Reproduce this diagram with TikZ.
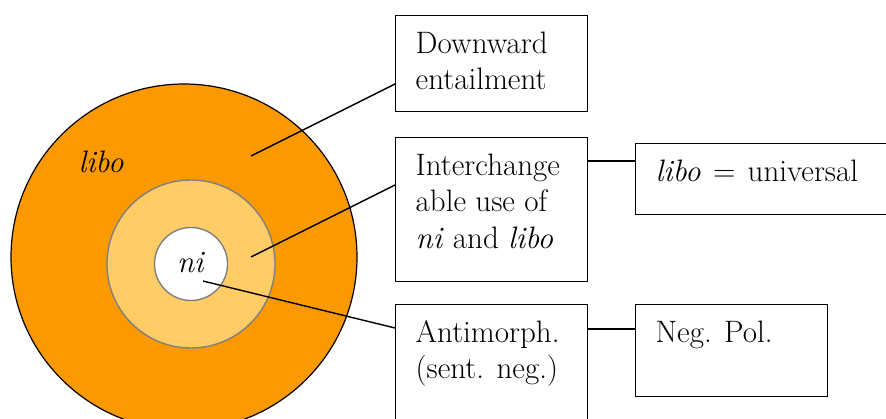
\documentclass[tikz,border=0pt]{standalone}
\usepackage{tikz}
\usetikzlibrary{positioning}
\definecolor{ringorange}{RGB}{251,153,0}
\definecolor{ringlight}{RGB}{255,204,102}
\newcommand{\boxtext}[3]{\parbox[t][#2][t]{#1}{\raggedright\strut #3}}

\begin{document}
\begin{tikzpicture}[x=1pt,y=-1pt,
 font=\fontsize{31}{36.5}\selectfont,
 box/.style={draw,line width=1.4pt,anchor=north west,inner xsep=20pt,inner ysep=12pt},
 ring/.style={circle,draw=gray,line width=1.4pt,inner sep=0pt},
 link/.style={line width=1.4pt}]
\useasboundingbox (0,0) rectangle (886,418);
\clip (0,0) rectangle (886,418);
% nested circles
\node[circle,draw,line width=1.2pt,fill=ringorange,minimum size=346pt] (outer) at (184,257) {};
\node[ring,fill=ringlight,minimum size=168pt] (middle) at (191,264) {};
\node[ring,fill=white,minimum size=73pt] (inner) at (191,264) {};
\node (libolab) at (101,162) {\textit{libo}};
\node (nilab) at (191,263) {\textit{ni}};
% boxes
\node[box] (down) at (395,15) {\boxtext{152pt}{72pt}{Downward\\entailment}};
\node[box] (inter) at (395,137) {\boxtext{152pt}{120pt}{Interchange\\able use of\\\textit{ni} and \textit{libo}}};
\node[box] (anti) at (395,304) {\boxtext{152pt}{126pt}{Antimorph.\\(sent. neg.)}};
\node[box] (univ) at (635,143) {\boxtext{300pt}{47pt}{\textit{libo}\hspace{0.4em}=\hspace{0.4em}universal}};
\node[box] (negpol) at (635,304) {\boxtext{152pt}{68pt}{Neg. Pol.}};
% connectors
\coordinate (p1) at (251,156);
\coordinate (p2) at (251,257);
\coordinate (p3) at (203,281);
\draw[link] (p1) -- ([yshift=-69pt]down.north west);
\draw[link] (p2) -- ([yshift=-48pt]inter.north west);
\draw[link] (p3) -- ([yshift=-24pt]anti.north west);
\draw[link] ([yshift=-24pt]inter.north east) coordinate (q1) -- (q1 -| univ.west);
\draw[link] ([yshift=-25pt]anti.north east) coordinate (q2) -- (q2 -| negpol.west);
\end{tikzpicture}
\end{document}
